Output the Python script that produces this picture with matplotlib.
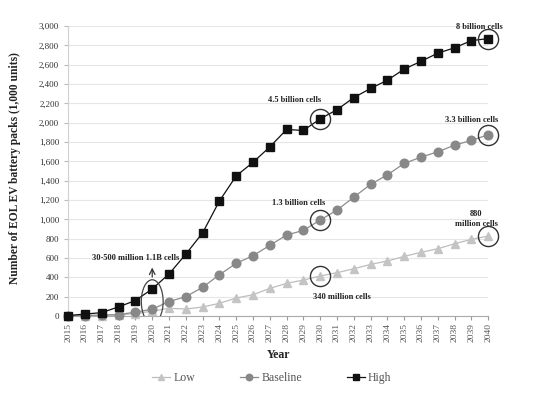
import matplotlib
matplotlib.use("Agg")
import matplotlib.pyplot as plt
from matplotlib.patches import Ellipse
from matplotlib.ticker import FuncFormatter

plt.rcParams['font.family'] = ['Liberation Serif', 'DejaVu Serif']

years = list(range(2015, 2041))
high = [5, 20, 35, 95, 160, 280, 435, 640, 860, 1190, 1450, 1590, 1750, 1930, 1920,
        2040, 2135, 2260, 2355, 2440, 2555, 2635, 2720, 2775, 2850, 2870]
baseline = [0, 5, 10, 15, 40, 70, 150, 200, 297, 427, 545, 624, 731, 838, 886,
            993, 1096, 1230, 1362, 1461, 1579, 1644, 1699, 1768, 1817, 1875]
low = [0, 2, 5, 10, 25, 50, 80, 72, 93, 131, 186, 220, 286, 338, 372,
       414, 448, 489, 534, 569, 617, 659, 696, 748, 793, 827]

annotations = [
    ("8 billion cells", 2039.5, 2990),
    ("4.5 billion cells", 2028.5, 2230),
    ("3.3 billion cells", 2039.0, 2030),
    ("1.3 billion cells", 2028.7, 1170),
    ("880\nmillion cells", 2039.3, 1000),
    ("340 million cells", 2031.3, 195),
    ("30-500 million 1.1B cells", 2019.0, 600),
]

fig = plt.figure(figsize=(5.33, 3.95), dpi=100)
ax = fig.add_axes([0.128, 0.2, 0.788, 0.734])

ax.plot(years, low, color='#bdbdbd', lw=0.9, marker='^', ms=6,
        mfc='#c4c4c4', mec='#c4c4c4', label='Low', clip_on=False, zorder=3)
ax.plot(years, baseline, color='#8c8c8c', lw=0.9, marker='o', ms=6.2,
        mfc='#888888', mec='#888888', label='Baseline', clip_on=False, zorder=4)
ax.plot(years, high, color='#111111', lw=0.9, marker='s', ms=5.8,
        mfc='#111111', mec='#111111', label='High', clip_on=False, zorder=5)

# circles highlighting points
for series in (high, baseline, low):
    for yr in (2030, 2040):
        i = years.index(yr)
        ax.plot([yr], [series[i]], marker='o', ms=14.5, mfc='none', mec='#333333',
                mew=1.0, clip_on=False, zorder=6)

ax.add_patch(Ellipse((2020, 150), 1.3, 450, fill=False, ec='#444444', lw=0.9, zorder=6))
ax.annotate('', xy=(2020, 530), xytext=(2020, 375),
            arrowprops=dict(arrowstyle='->', color='#333333', lw=0.9))

for txt, x, y in annotations:
    ax.text(x, y, txt, ha='center', va='center', fontsize=6, fontweight='bold',
            color='#222222', linespacing=1.3)

ax.set_xlim(2015, 2040)
ax.set_ylim(0, 3000)
ax.set_yticks(range(0, 3001, 200))
ax.yaxis.set_major_formatter(FuncFormatter(lambda v, p: f"{int(v):,}"))
ax.set_xticks(years)
ax.set_xticklabels([str(y) for y in years], rotation=90, fontsize=6.8, color='#555555')
ax.tick_params(axis='y', labelsize=6.5, labelcolor='#333333', length=3, color='#bbbbbb')
ax.tick_params(axis='x', length=3, color='#999999', pad=2)
ax.grid(axis='y', color='#e6e6e6', lw=0.8)
ax.set_axisbelow(True)
for s in ('top', 'right'):
    ax.spines[s].set_visible(False)
ax.spines['left'].set_color('#d0d0d0')
ax.spines['bottom'].set_color('#aaaaaa')

ax.set_ylabel('Number of EOL EV battery packs (1,000 units)', fontsize=8.3,
              fontweight='bold', color='#222222')
ax.yaxis.set_label_coords(-0.112, 0.51)
ax.set_xlabel('Year', fontsize=8.5, fontweight='bold', color='#222222', labelpad=5)

leg = fig.legend(loc='center', bbox_to_anchor=(0.51, 0.043), ncol=3, frameon=False,
                 fontsize=8.5, handlelength=1.5, columnspacing=3.8, handletextpad=0.3,
                 markerscale=0.75)
for t in leg.get_texts():
    t.set_color('#555555')

fig.savefig('out.png', dpi=100)
